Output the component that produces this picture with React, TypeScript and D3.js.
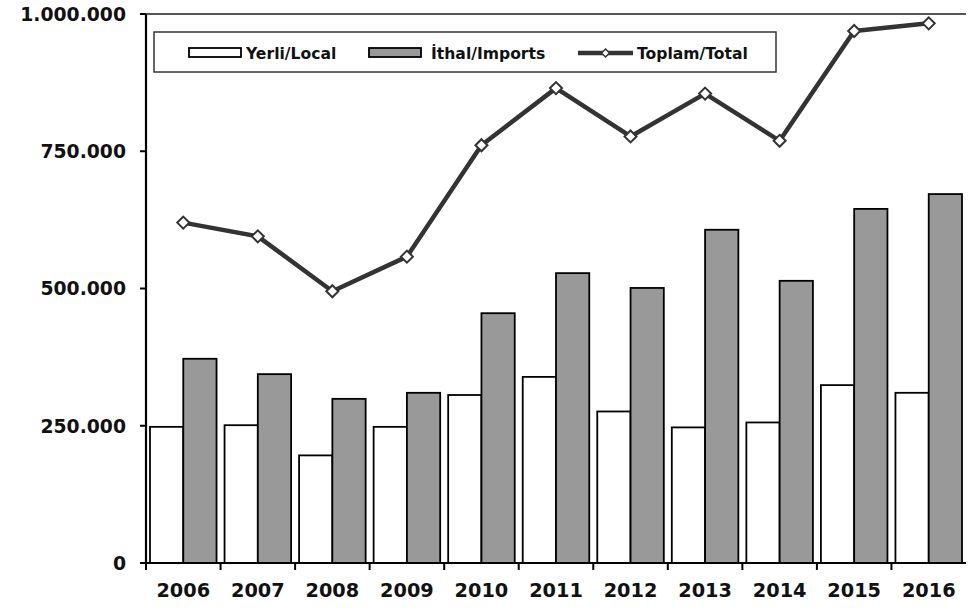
import { useMemo } from "react";
import { scaleBand, scaleLinear, line } from "d3";

const years = ["2006", "2007", "2008", "2009", "2010", "2011", "2012", "2013", "2014", "2015", "2016"];
const localValues = [248000, 251000, 196000, 248000, 306000, 339000, 276000, 247000, 256000, 324000, 310000];
const importValues = [372000, 344000, 299000, 310000, 455000, 528000, 501000, 607000, 514000, 645000, 672000];
const totalValues = [620000, 595000, 495000, 558000, 761000, 865000, 777000, 855000, 769000, 969000, 983000];
const yTicks = [0, 250000, 500000, 750000, 1000000];

const width = 971;
const height = 608;
const left = 146;
const right = 966;
const top = 14;
const bottom = 563;
const font = "'DejaVu Sans', Verdana, sans-serif";

const fmt = (v: number) =>
  v === 0 ? "0" : String(v).replace(/\B(?=(\d{3})+(?!\d))/g, ".");

export default function App() {
  const { x, y, linePath } = useMemo(() => {
    const x = scaleBand<string>().domain(years).range([left, right]).paddingInner(0).paddingOuter(0);
    const y = scaleLinear().domain([0, 1000000]).range([bottom, top]);
    const linePath = line<number>()
      .x((_, i) => (x(years[i]) ?? 0) + x.bandwidth() / 2)
      .y((d) => y(d))(totalValues);
    return { x, y, linePath };
  }, []);

  const bw = x.bandwidth();
  const pad = 4;
  const barW = (bw - pad * 2) / 2;

  return (
    <svg
      width={width}
      height={height}
      viewBox={`0 0 ${width} ${height}`}
      style={{ position: "absolute", left: 0, top: 0, background: "white" }}
    >
      {/* top border */}
      <line x1={left} x2={right} y1={top} y2={top} stroke="#555" strokeWidth={2} />

      {/* bars */}
      {years.map((yr, i) => {
        const x0 = (x(yr) ?? 0) + pad;
        return (
          <g key={yr}>
            <rect
              x={x0}
              y={y(localValues[i])}
              width={barW}
              height={bottom - y(localValues[i])}
              fill="white"
              stroke="#000"
              strokeWidth={1.8}
            />
            <rect
              x={x0 + barW}
              y={y(importValues[i])}
              width={barW}
              height={bottom - y(importValues[i])}
              fill="#999999"
              stroke="#000"
              strokeWidth={1.8}
            />
          </g>
        );
      })}

      {/* y axis */}
      <line x1={left} x2={left} y1={top} y2={bottom} stroke="#000" strokeWidth={2.2} />
      {yTicks.map((t) => (
        <g key={t}>
          <line x1={left - 6} x2={left} y1={y(t)} y2={y(t)} stroke="#000" strokeWidth={2} />
          <text
            x={left - 20}
            y={y(t)}
            dy="0.36em"
            textAnchor="end"
            fontFamily={font}
            fontWeight="bold"
            fontSize={18.8}
            fill="#111"
          >
            {fmt(t)}
          </text>
        </g>
      ))}

      {/* x axis */}
      <line x1={left} x2={right} y1={bottom} y2={bottom} stroke="#000" strokeWidth={2.2} />
      {years.map((yr, i) => (
        <g key={yr}>
          {i > 0 && (
            <line x1={x(yr)} x2={x(yr)} y1={bottom} y2={bottom + 7} stroke="#000" strokeWidth={2} />
          )}
          <text
            x={(x(yr) ?? 0) + bw / 2}
            y={590}
            dy="0.36em"
            textAnchor="middle"
            fontFamily={font}
            fontWeight="bold"
            fontSize={19.3}
            fill="#111"
          >
            {yr}
          </text>
        </g>
      ))}
      <line x1={left} x2={left} y1={bottom} y2={bottom + 7} stroke="#000" strokeWidth={2} />

      {/* total line */}
      <path d={linePath ?? ""} fill="none" stroke="#333" strokeWidth={4.5} strokeLinejoin="round" />
      {totalValues.map((v, i) => {
        const cx = (x(years[i]) ?? 0) + bw / 2;
        const cy = y(v);
        const s = 6;
        return (
          <path
            key={i}
            d={`M${cx},${cy - s}L${cx + s},${cy}L${cx},${cy + s}L${cx - s},${cy}Z`}
            fill="white"
            stroke="#333"
            strokeWidth={2}
          />
        );
      })}

      {/* legend */}
      <rect x={154} y={32} width={622} height={40} fill="white" stroke="#333" strokeWidth={1.5} />
      <rect x={189} y={48} width={52} height={9} fill="white" stroke="#000" strokeWidth={1.8} />
      <text x={246} y={53} dy="0.36em" fontFamily={font} fontWeight="bold" fontSize={15.6} fill="#111">
        Yerli/Local
      </text>
      <rect x={369} y={48} width={52} height={9} fill="#999999" stroke="#000" strokeWidth={1.8} />
      <text x={431} y={53} dy="0.36em" fontFamily={font} fontWeight="bold" fontSize={15.6} fill="#111">
        İthal/Imports
      </text>
      <line x1={578} x2={633} y1={53} y2={53} stroke="#333" strokeWidth={4.5} />
      <path d="M605.5,49L609.5,53L605.5,57L601.5,53Z" fill="white" stroke="#333" strokeWidth={1.5} />
      <text x={637} y={53} dy="0.36em" fontFamily={font} fontWeight="bold" fontSize={15.6} fill="#111">
        Toplam/Total
      </text>
    </svg>
  );
}
